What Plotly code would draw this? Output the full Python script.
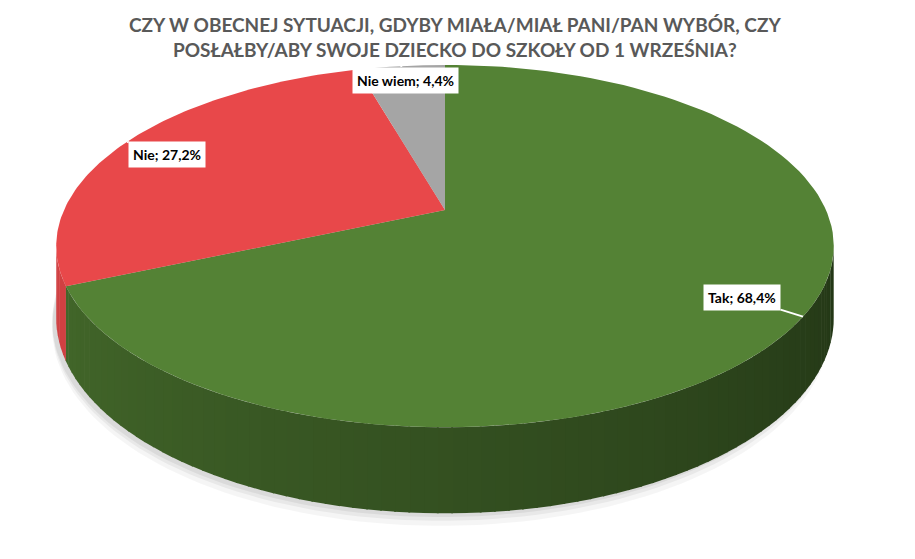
import numpy as np
import plotly.graph_objects as go

# survey answers (share of respondents, %)
categories = ["Tak", "Nie", "Nie wiem"]
shares = [68.4, 27.2, 4.4]
top_colors = [(84, 130, 53), (232, 72, 74), (165, 165, 165)]

title_text = ("CZY W OBECNEJ SYTUACJI, GDYBY MIAŁA/MIAŁ PANI/PAN WYBÓR, CZY<br>"
              "POSŁAŁBY/ABY SWOJE DZIECKO DO SZKOŁY OD 1 WRZEŚNIA?")

# how the tilted disc is seen (pixel space)
CX, CY = 445, 210
A, B, K = 381, 174, 0.199
DEPTH = 69
PAGE = 8  # body margin of the html page


def project(theta, drop=0.0):
    # theta runs clockwise from 12 o'clock
    X = np.sin(theta)
    Y = np.cos(theta)
    s = 1.0 / (1.0 + K * Y)
    return CX + A * X * s, CY - B * Y * s + drop * s


def rgb(c, f=1.0):
    return "rgb(%d,%d,%d)" % tuple(int(min(255, v * f)) for v in c)


fig = go.Figure()

total = sum(shares)
bounds = np.cumsum([0] + shares) / total * 2 * np.pi

# visible part of the side wall
vis0 = np.arccos(-K)
vis1 = 2 * np.pi - vis0

# soft shadow under the disc
t = np.linspace(0, 2 * np.pi, 200)
for grow, alpha in [(10, 0.04), (6, 0.05), (3, 0.06)]:
    sx, sy = project(t, DEPTH + grow)
    fig.add_trace(go.Scatter(x=sx - 4, y=sy, fill="toself", mode="lines",
                             line=dict(width=0), hoverinfo="skip",
                             fillcolor="rgba(0,0,0,%.2f)" % alpha))

# side wall, drawn in thin strips so the shading can change along it
for i, cat in enumerate(categories):
    t0 = max(bounds[i], vis0)
    t1 = min(bounds[i + 1], vis1)
    if t1 <= t0:
        continue
    edges = np.linspace(t0, t1, max(2, int((t1 - t0) / 0.03) + 1))
    for a0, a1 in zip(edges[:-1], edges[1:]):
        tt = np.linspace(a0, a1 + 0.004, 4)
        ux, uy = project(tt)
        lx, ly = project(tt[::-1], DEPTH)
        mid = (a0 + a1) / 2
        f = 0.42 + 0.40 * (mid - vis0) / (vis1 - vis0)
        if i == 1:
            f = 0.9
        fig.add_trace(go.Scatter(x=np.r_[ux, lx], y=np.r_[uy, ly], fill="toself",
                                 mode="lines", line=dict(width=0),
                                 fillcolor=rgb(top_colors[i], f), hoverinfo="skip"))

# top face
for i, cat in enumerate(categories):
    tt = np.linspace(bounds[i], bounds[i + 1], 120)
    ax_, ay_ = project(tt)
    fig.add_trace(go.Scatter(x=np.r_[CX, ax_, CX], y=np.r_[CY, ay_, CY], fill="toself",
                             mode="lines", line=dict(width=0),
                             fillcolor=rgb(top_colors[i]), name=cat,
                             hovertemplate=f"{cat}: {shares[i]}%<extra></extra>"))

# callout labels at the middle of each slice
offsets = [(-61, -19), (40, 13), (4, 14)]
for i, cat in enumerate(categories):
    mid = (bounds[i] + bounds[i + 1]) / 2
    px, py = project(mid)
    fig.add_annotation(x=px, y=py, xref="x", yref="y",
                       text=f"<b>{cat}; {shares[i]:.1f}%</b>".replace(".", ","),
                       showarrow=True, arrowhead=0, arrowwidth=2, arrowcolor="white",
                       ax=offsets[i][0], ay=offsets[i][1],
                       bgcolor="white", borderpad=4,
                       font=dict(family="Lato", size=14, color="black"))

# title
fig.add_annotation(x=447 / 915, y=1 - 3 / 559, xref="paper", yref="paper",
                   xanchor="center", yanchor="top", showarrow=False,
                   text=f"<b>{title_text}</b>",
                   font=dict(family="Lato", size=19, color="#595959"))

fig.update_layout(
    width=915, height=559,
    margin=dict(l=0, r=0, t=0, b=0),
    paper_bgcolor="white", plot_bgcolor="white",
    showlegend=False,
    xaxis=dict(range=[PAGE, 915 + PAGE], visible=False, fixedrange=True),
    yaxis=dict(range=[559 + PAGE, PAGE], visible=False, fixedrange=True),
)

fig.write_html("out.html")
